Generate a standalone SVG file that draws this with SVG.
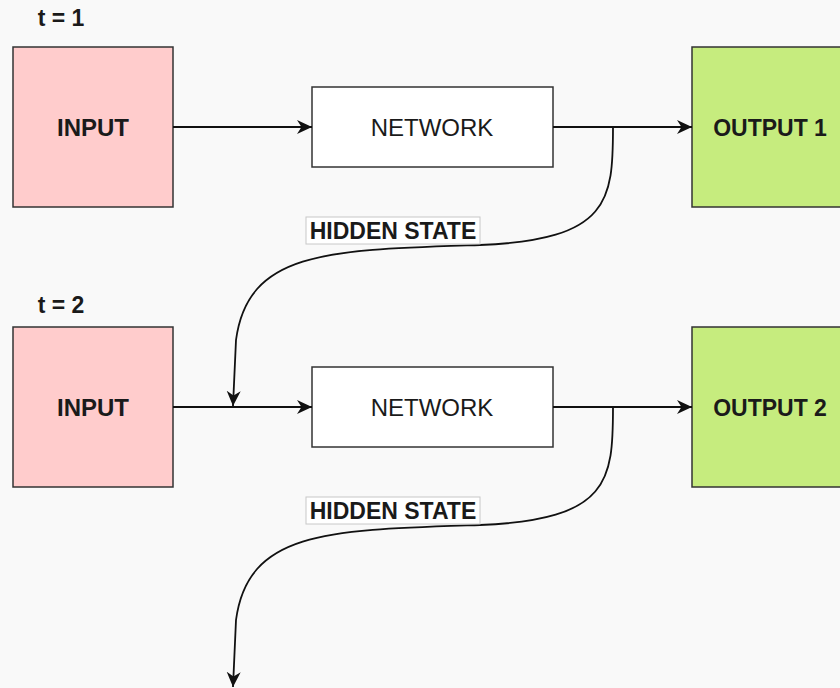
<svg xmlns="http://www.w3.org/2000/svg" width="840" height="688" viewBox="0 0 840 688">
  <style>
    .bg { fill: #f9f9f9; }
    .box { stroke: #333333; stroke-width: 1.5; }
    .in { fill: #ffcccc; }
    .out { fill: #c6ec7e; }
    .net { fill: #ffffff; }
    .edge { fill: none; stroke: #111111; stroke-width: 1.8; }
    .lbl { font-family: "Liberation Sans", Arial, sans-serif; fill: #1a1a1a; }
    .b { font-weight: bold; }
    .tag { fill: #ffffff; stroke: #c8c8c8; stroke-width: 1; }
  </style>
  <defs>
    <marker id="arrow" markerUnits="userSpaceOnUse" markerWidth="18" markerHeight="18" refX="15" refY="9" orient="auto">
      <path d="M0,2 L15,9 L0,16 L4.5,9 Z" fill="#111111"/>
    </marker>
  </defs>

  <rect class="bg" x="0" y="0" width="840" height="688"/>

  <!-- time step 1 -->
  <text class="lbl b" x="61" y="26" font-size="23" text-anchor="middle">t = 1</text>
  <g id="input1">
    <rect class="box in" x="13" y="47" width="160" height="160"/>
    <text class="lbl b" x="93" y="136" font-size="24" text-anchor="middle">INPUT</text>
  </g>
  <g id="network1">
    <rect class="box net" x="312" y="87" width="241" height="80"/>
    <text class="lbl" x="432" y="136" font-size="24" text-anchor="middle">NETWORK</text>
  </g>
  <g id="output1">
    <rect class="box out" x="692" y="47" width="160" height="160"/>
    <text class="lbl b" x="770" y="136" font-size="23" text-anchor="middle">OUTPUT 1</text>
  </g>

  <!-- time step 2 -->
  <text class="lbl b" x="61" y="313" font-size="23" text-anchor="middle">t = 2</text>
  <g id="input2">
    <rect class="box in" x="13" y="327" width="160" height="160"/>
    <text class="lbl b" x="93" y="416" font-size="24" text-anchor="middle">INPUT</text>
  </g>
  <g id="network2">
    <rect class="box net" x="312" y="367" width="241" height="80"/>
    <text class="lbl" x="432" y="416" font-size="24" text-anchor="middle">NETWORK</text>
  </g>
  <g id="output2">
    <rect class="box out" x="692" y="327" width="160" height="160"/>
    <text class="lbl b" x="770" y="416" font-size="23" text-anchor="middle">OUTPUT 2</text>
  </g>

  <!-- connectors -->
  <g id="connectors">
    <path class="edge" d="M173,127 L312,127" marker-end="url(#arrow)"/>
    <path class="edge" d="M553,127 L692,127" marker-end="url(#arrow)"/>
    <path class="edge" d="M613,127 C613,200 610,240 480,245 C330,250 248,250 236,340 L233,406" marker-end="url(#arrow)"/>
    <path class="edge" d="M173,407 L312,407" marker-end="url(#arrow)"/>
    <path class="edge" d="M553,407 L692,407" marker-end="url(#arrow)"/>
    <path class="edge" d="M613,407 C613,480 610,520 480,525 C330,530 248,530 236,620 L233,687" marker-end="url(#arrow)"/>

    <g id="hidden1">
      <rect class="tag" x="306" y="217" width="174" height="27"/>
      <text class="lbl b" x="393" y="239" font-size="23" text-anchor="middle">HIDDEN STATE</text>
    </g>
    <g id="hidden2">
      <rect class="tag" x="306" y="497" width="174" height="27"/>
      <text class="lbl b" x="393" y="519" font-size="23" text-anchor="middle">HIDDEN STATE</text>
    </g>
  </g>
</svg>
